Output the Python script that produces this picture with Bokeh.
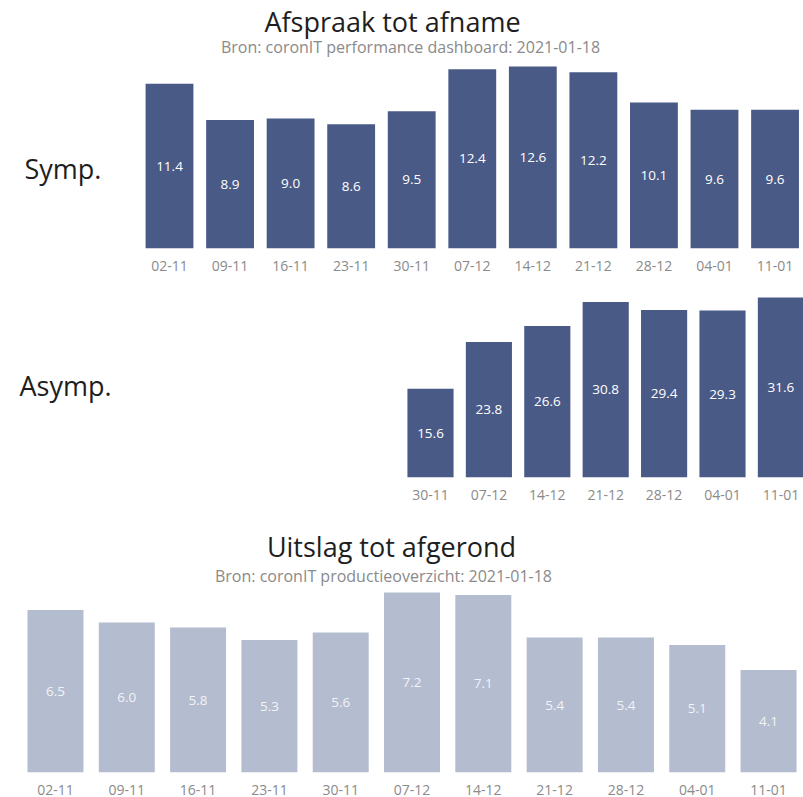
from bokeh.plotting import figure
from bokeh.layouts import column
from bokeh.models import Range1d, FixedTicker
from bokeh.core.properties import value
from bokeh.embed import file_html
from bokeh.resources import INLINE

# ---------------- data ----------------
weeks = ["02-11", "09-11", "16-11", "23-11", "30-11", "07-12",
         "14-12", "21-12", "28-12", "04-01", "11-01"]
symp = [11.4, 8.9, 9.0, 8.6, 9.5, 12.4, 12.6, 12.2, 10.1, 9.6, 9.6]

asymp_weeks = ["30-11", "07-12", "14-12", "21-12", "28-12", "04-01", "11-01"]
asymp = [15.6, 23.8, 26.6, 30.8, 29.4, 29.3, 31.6]

uitslag = [6.5, 6.0, 5.8, 5.3, 5.6, 7.2, 7.1, 5.4, 5.4, 5.1, 4.1]

title1 = "Afspraak tot afname"
sub1 = "Bron: coronIT performance dashboard: 2021-01-18"
title2 = "Uitslag tot afgerond"
sub2 = "Bron: coronIT productieoverzicht: 2021-01-18"
row1 = "Symp."
row2 = "Asymp."

# ---------------- styles ----------------
FONT = value("Open Sans")
DARK = "#4a5a87"
LIGHT = "#b4bccf"
TICK_COL = "#8a8a8a"
PAGE_W = 803


def make_fig(height, bottom, x_start, x_end, y_end, page_top, page_base, labels):
    p = figure(width=PAGE_W, height=height, output_backend="svg",
               toolbar_location=None, y_axis_location=None,
               x_range=Range1d(x_start, x_end), y_range=Range1d(0, y_end),
               min_border_left=0, min_border_right=0, min_border_top=0,
               min_border_bottom=bottom)
    p.outline_line_color = None
    p.xgrid.visible = False
    p.ygrid.visible = False
    p.background_fill_color = "white"
    p.border_fill_color = "white"
    ax = p.xaxis[0]
    ax.ticker = FixedTicker(ticks=list(range(len(labels))))
    ax.major_label_overrides = {i: lab for i, lab in enumerate(labels)}
    ax.axis_line_color = None
    ax.major_tick_line_color = None
    ax.minor_tick_line_color = None
    ax.major_label_standoff = 6
    ax.major_label_text_font = "Open Sans"
    ax.major_label_text_font_size = "14px"
    ax.major_label_text_color = TICK_COL
    # page-pixel overlay ranges for free text
    p.extra_x_ranges = {"px": Range1d(0, PAGE_W)}
    p.extra_y_ranges = {"px": Range1d(page_base, page_top)}
    return p


def bars(p, vals, width, color, label_color):
    idx = list(range(len(vals)))
    p.vbar(x=idx, top=vals, width=width, bottom=0, fill_color=color, line_color=None)
    p.text(x=idx, y=[v / 2 for v in vals], text=[f"{v:.1f}" for v in vals],
           text_align="center", text_baseline="middle", text_font=FONT,
           text_font_size="13.5px", text_color=label_color)


def ptext(p, x, y, txt, size, color, align="center"):
    p.text(x=[x], y=[y], text=[txt], x_range_name="px", y_range_name="px",
           text_align=align, text_baseline="middle", text_font=FONT,
           text_font_size=size, text_color=color)


# ---- top: Symp ----
p1 = make_fig(283, 35, -2.791, 10.47, 17.16, 0, 248, weeks)
bars(p1, symp, 0.79, DARK, "white")
ptext(p1, 392, 21, title1, "27px", "#1e1e1e")
ptext(p1, 410, 46, sub1, "16px", "#8a8a8a")
ptext(p1, 24, 168, row1, "27px", "#1e1e1e", align="left")

# ---- middle: Asymp ----
p2 = make_fig(227, 33, -7.363, 6.387, 34.06, 283, 477, asymp_weeks)
bars(p2, asymp, 0.79, DARK, "white")
ptext(p2, 19, 385, row2, "27px", "#1e1e1e", align="left")

# ---- bottom: Uitslag ----
p3 = make_fig(287, 25, -0.771, 10.49, 10.48, 510, 772, weeks)
bars(p3, uitslag, 0.785, LIGHT, "#f2f4f8")
ptext(p3, 391, 546, title2, "27px", "#1e1e1e")
ptext(p3, 383, 575, sub2, "16px", "#8a8a8a")

layout = column(p1, p2, p3, spacing=0)
open("out.html", "w").write(file_html(layout, INLINE))
